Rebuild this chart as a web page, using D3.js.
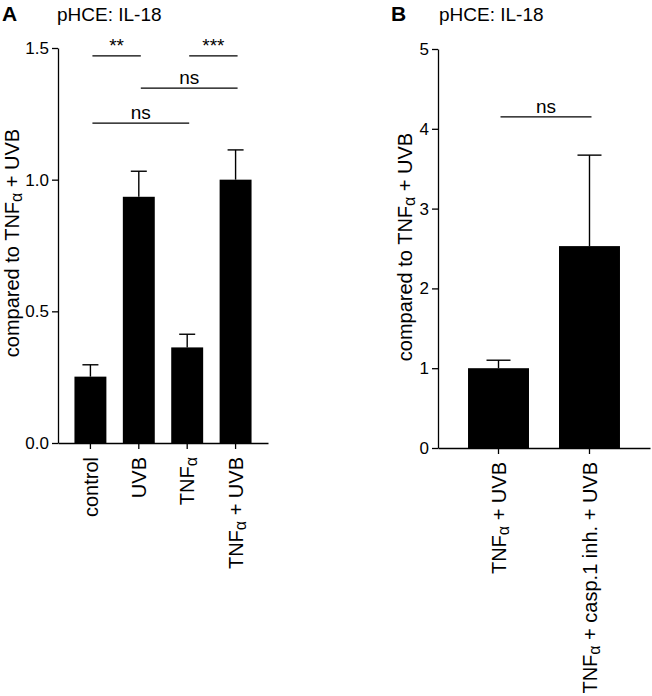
<!DOCTYPE html>
<html lang="en">
<head>
<meta charset="utf-8">
<title>pHCE: IL-18</title>
<script src="https://cdn.jsdelivr.net/npm/d3@7"></script>
<style>
  body { margin: 0; background: #fff; }
  text { font-family: Arial, "Liberation Sans", sans-serif; fill: #000; }
</style>
</head>
<body>
<script>
// panel A data
var catsA = ["control", "UVB", "TNFα", "TNFα + UVB"];
var meanA = [0.252, 0.935, 0.363, 1.0];
var errA = [0.045, 0.097, 0.05, 0.113];
var ticksA = [0, 0.5, 1.0, 1.5];
// significance brackets: from bar, to bar, height, label
var sigFromA = [0, 2, 1, 0];
var sigToA = [1, 3, 3, 2];
var sigYA = [1.47, 1.47, 1.348, 1.215];
var sigTextA = ["**", "***", "ns", "ns"];

// panel B data
var catsB = ["TNFα + UVB", "TNFα + casp.1 inh. + UVB"];
var meanB = [1.0, 2.53];
var errB = [0.10, 1.14];
var ticksB = [0, 1, 2, 3, 4, 5];
var sigFromB = [0];
var sigToB = [1];
var sigYB = [4.15];
var sigTextB = ["ns"];

var yTitle = "compared to TNFα + UVB";
var w = 652, h = 696;

var svg = d3.select("body").append("svg")
    .attr("width", w)
    .attr("height", h);

// writes a label with a small, lowered alpha like the original figure
function richText(sel, str) {
  sel.each(function() {
    var t = d3.select(this);
    var s = str || t.text();
    t.text(null);
    var parts = s.split("α");
    parts.forEach(function(p, i) {
      if (i > 0) {
        t.append("tspan").attr("font-size", "0.8em").attr("dy", 3).text("α");
        t.append("tspan").attr("dy", -3).text(p);
      } else {
        t.append("tspan").text(p);
      }
    });
  });
}

function drawPanel(opt) {
  var g = svg.append("g");

  var y = d3.scaleLinear().domain(opt.domain).range([opt.y0, opt.y1]);
  var x = d3.scaleBand().domain(opt.cats)
      .range([opt.x0, opt.x1])
      .paddingInner(opt.pad)
      .paddingOuter(opt.pad);

  // bars
  g.selectAll("rect.bar")
    .data(opt.mean)
    .enter()
    .append("rect")
    .attr("class", "bar")
    .attr("x", function(d, i) { return x(opt.cats[i]); })
    .attr("y", function(d) { return y(d); })
    .attr("width", x.bandwidth())
    .attr("height", function(d) { return y(0) - y(d); })
    .attr("fill", "#000");

  // error bars (upper only)
  var eb = g.selectAll("g.err")
    .data(opt.mean)
    .enter()
    .append("g")
    .attr("class", "err")
    .attr("stroke", "#000")
    .attr("stroke-width", 1.4);
  eb.append("line")
    .attr("x1", function(d, i) { return x(opt.cats[i]) + x.bandwidth() / 2; })
    .attr("x2", function(d, i) { return x(opt.cats[i]) + x.bandwidth() / 2; })
    .attr("y1", function(d) { return y(d); })
    .attr("y2", function(d, i) { return y(d + opt.err[i]); });
  eb.append("line")
    .attr("x1", function(d, i) { return x(opt.cats[i]) + x.bandwidth() / 2 - opt.cap; })
    .attr("x2", function(d, i) { return x(opt.cats[i]) + x.bandwidth() / 2 + opt.cap; })
    .attr("y1", function(d, i) { return y(d + opt.err[i]); })
    .attr("y2", function(d, i) { return y(d + opt.err[i]); });

  // y axis
  var yAxis = d3.axisLeft(y)
      .tickValues(opt.ticks)
      .tickFormat(d3.format(opt.fmt))
      .tickSize(6)
      .tickSizeOuter(0)
      .tickPadding(3);
  var ya = g.append("g")
      .attr("transform", "translate(" + opt.x0 + ",0)")
      .call(yAxis);
  ya.selectAll("text").style("font-size", "17px").style("font-family", "Arial, 'Liberation Sans', sans-serif");

  // x axis
  var xAxis = d3.axisBottom(x).tickSize(6).tickSizeOuter(0).tickPadding(3);
  var xa = g.append("g")
      .attr("transform", "translate(0," + opt.y0 + ")")
      .call(xAxis);
  xa.selectAll("text")
      .style("font-size", "20px")
      .style("font-family", "Arial, 'Liberation Sans', sans-serif")
      .attr("text-anchor", "end")
      .attr("transform", "rotate(-90)")
      .attr("x", -14)
      .attr("y", 0)
      .attr("dy", "0.36em")
      .each(function(d) { richText(d3.select(this), d); });

  [ya, xa].forEach(function(a) {
    a.selectAll("path, line").attr("stroke", "#000").attr("stroke-width", 1.3);
  });

  // significance brackets
  opt.sigY.forEach(function(v, i) {
    var xa1 = x(opt.cats[opt.sigFrom[i]]) + x.bandwidth() / 2 + 2;
    var xa2 = x(opt.cats[opt.sigTo[i]]) + x.bandwidth() / 2 + 2;
    g.append("line")
      .attr("x1", xa1).attr("x2", xa2)
      .attr("y1", y(v)).attr("y2", y(v))
      .attr("stroke", "#000").attr("stroke-width", 1.3);
    g.append("text")
      .attr("x", (xa1 + xa2) / 2)
      .attr("y", y(v) - 4)
      .attr("text-anchor", "middle")
      .style("font-size", "19px")
      .text(opt.sigText[i]);
  });

  // y axis title
  g.append("text")
    .attr("transform", "translate(" + opt.titleX + "," + opt.titleY + ") rotate(-90)")
    .attr("text-anchor", "middle")
    .style("font-size", "20px")
    .call(richText, yTitle);

  // panel letter and heading
  g.append("text")
    .attr("x", opt.letterX).attr("y", 21)
    .style("font-size", "21px").style("font-weight", "bold")
    .text(opt.letter);
  g.append("text")
    .attr("x", opt.headX).attr("y", 21)
    .style("font-size", "19px")
    .text("pHCE: IL-18");
}

drawPanel({
  cats: catsA, mean: meanA, err: errA, ticks: ticksA, fmt: ".1f",
  domain: [0, 1.5], y0: 443, y1: 48, x0: 58, x1: 268, pad: 0.34, cap: 8,
  sigFrom: sigFromA, sigTo: sigToA, sigY: sigYA, sigText: sigTextA,
  titleX: 19, titleY: 243, letter: "A", letterX: 2, headX: 57
});

drawPanel({
  cats: catsB, mean: meanB, err: errB, ticks: ticksB, fmt: "d",
  domain: [0, 5], y0: 448, y1: 49, x0: 438, x1: 650, pad: 0.33, cap: 12,
  sigFrom: sigFromB, sigTo: sigToB, sigY: sigYB, sigText: sigTextB,
  titleX: 412, titleY: 247, letter: "B", letterX: 391, headX: 439
});
</script>
</body>
</html>
